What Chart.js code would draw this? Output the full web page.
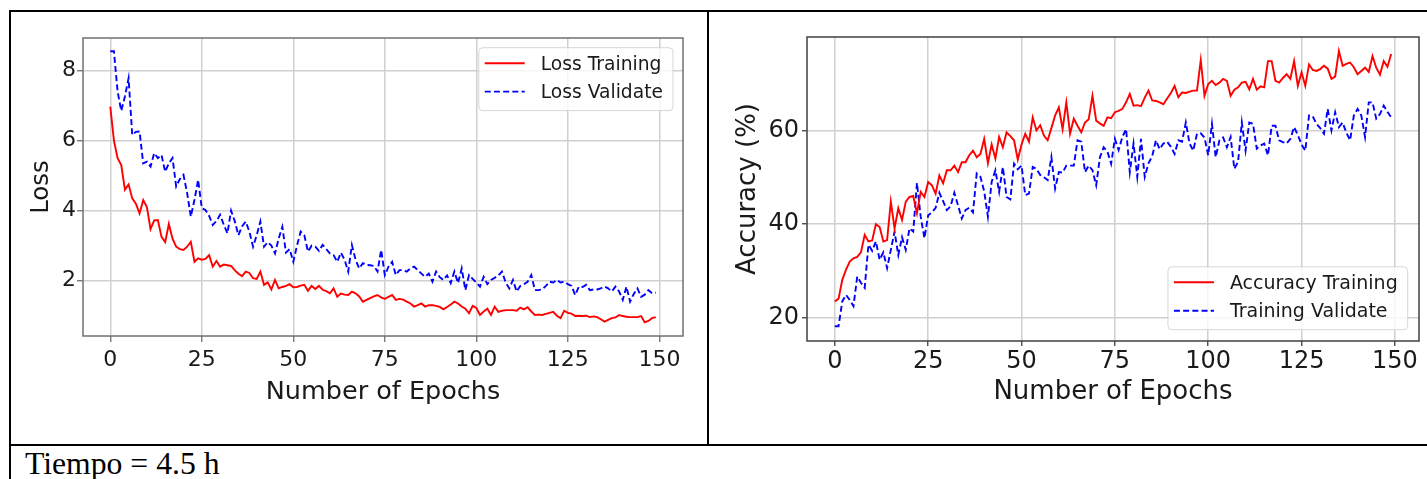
<!DOCTYPE html>
<html>
<head>
<meta charset="utf-8">
<script src="https://cdn.jsdelivr.net/npm/chart.js@4/dist/chart.umd.min.js"></script>
<style>
html, body { margin: 0; padding: 0; background: #fff; }
body { width: 1427px; height: 479px; position: relative; overflow: hidden; }
.rule { position: absolute; background: #000; }
canvas { position: absolute; }
#caption { position: absolute; left: 25px; top: 448px; font: 31.7px "Liberation Serif", "Times New Roman", serif; line-height: 1; white-space: nowrap; color: #000; }
</style>
</head>
<body>
<div class="rule" style="left:9px;top:10px;width:1418px;height:2px"></div>
<div class="rule" style="left:9px;top:10px;width:2px;height:469px"></div>
<div class="rule" style="left:707px;top:10px;width:2px;height:436px"></div>
<div class="rule" style="left:9px;top:444px;width:1418px;height:2px"></div>
<canvas id="loss-chart" width="696" height="432" style="left:11px;top:12px"></canvas>
<canvas id="acc-chart" width="717" height="432" style="left:710px;top:12px"></canvas>
<div id="caption">Tiempo = 4.5 h</div>

<script>
// values, one per epoch (0..149)
const lossTraining = [
    6.97, 6.0, 5.5, 5.3, 4.6, 4.75, 4.35, 4.2, 3.92, 4.3,
    4.1, 3.47, 3.72, 3.73, 3.25, 3.1, 3.62, 3.2, 2.97, 2.9,
    2.88, 2.97, 3.11, 2.54, 2.64, 2.6, 2.62, 2.73, 2.4, 2.56,
    2.4, 2.46, 2.44, 2.42, 2.3, 2.2, 2.13, 2.26, 2.22, 2.07,
    2.05, 2.26, 1.88, 1.95, 1.75, 2.02, 1.78, 1.82, 1.85, 1.9,
    1.81, 1.82, 1.86, 1.88, 1.71, 1.85, 1.76, 1.85, 1.74, 1.7,
    1.64, 1.78, 1.54, 1.63, 1.6, 1.59, 1.69, 1.64, 1.55, 1.4,
    1.45, 1.5, 1.55, 1.59, 1.52, 1.48, 1.54, 1.59, 1.45, 1.48,
    1.46, 1.4, 1.35, 1.26, 1.3, 1.35, 1.26, 1.3, 1.3, 1.28,
    1.25, 1.18, 1.25, 1.32, 1.4, 1.35, 1.26, 1.2, 1.07, 1.28,
    1.22, 1.02, 1.12, 1.2, 1.02, 1.26, 1.11, 1.14, 1.16, 1.16,
    1.16, 1.14, 1.23, 1.18, 1.24, 1.12, 1.02, 1.03, 1.02, 1.05,
    1.08, 1.11, 1.0, 0.93, 1.14, 1.08, 1.06, 0.99, 1.0, 0.99,
    1.0, 0.96, 0.98, 0.96, 0.9, 0.83, 0.88, 0.93, 0.95, 1.02,
    0.99, 0.97, 0.96, 0.96, 0.96, 0.99, 0.81, 0.85, 0.93, 0.96
];
const lossValidate = [
    8.55, 8.55, 7.4, 6.85, 7.26, 7.78, 6.16, 6.25, 6.26, 5.35,
    5.4, 5.26, 5.64, 5.5, 5.59, 5.11, 5.35, 5.5, 4.69, 4.9,
    5.02, 4.5, 3.83, 4.31, 4.88, 4.07, 4.02, 3.85, 3.59, 3.7,
    3.88, 3.6, 3.35, 4.0, 3.7, 3.3, 3.55, 3.69, 3.4, 2.97,
    3.3, 3.69, 2.97, 3.1, 3.0, 2.78, 3.2, 3.54, 2.8, 2.9,
    2.54, 3.0, 3.4, 3.3, 2.83, 3.0, 2.97, 2.85, 3.02, 2.9,
    2.78, 2.73, 2.54, 2.8, 2.6, 2.26, 3.02, 2.6, 2.35, 2.5,
    2.45, 2.44, 2.42, 2.26, 2.88, 2.16, 2.4, 2.54, 2.16, 2.3,
    2.3, 2.26, 2.35, 2.4, 2.3, 2.2, 2.11, 2.2, 1.97, 2.26,
    2.1, 2.02, 2.15, 1.93, 2.26, 1.93, 2.35, 1.73, 2.16, 2.05,
    1.95, 1.83, 2.11, 1.9, 2.02, 2.08, 2.15, 2.26, 1.95, 1.78,
    2.02, 1.69, 1.85, 1.9, 1.97, 2.16, 1.73, 1.73, 1.75, 1.85,
    1.97, 1.95, 2.02, 1.95, 1.97, 1.9, 1.85, 1.59, 1.83, 1.82,
    1.88, 1.73, 1.75, 1.75, 1.78, 1.83, 1.78, 1.69, 1.83, 1.69,
    1.45, 1.83, 1.4, 1.62, 1.78, 1.54, 1.6, 1.73, 1.64, 1.66
];
const accTraining = [
    23.5, 24.1, 28.1, 30.3, 32.0, 32.7, 33.0, 34.0, 37.7, 36.3,
    36.5, 40.0, 39.4, 36.3, 36.6, 44.8, 39.1, 43.4, 40.9, 44.8,
    45.8, 46.0, 42.3, 46.9, 45.8, 49.0, 48.3, 46.5, 50.4, 48.7,
    51.5, 51.5, 52.5, 51.1, 53.2, 53.2, 54.7, 55.7, 54.3, 55.0,
    58.2, 53.0, 57.0, 54.0, 58.6, 56.4, 59.6, 58.8, 57.9, 53.8,
    57.0, 59.3, 57.6, 62.8, 60.0, 61.1, 58.9, 57.9, 60.5, 63.2,
    64.9, 60.3, 66.0, 59.3, 62.5, 61.0, 59.6, 61.7, 62.4, 67.4,
    62.1, 61.5, 61.0, 62.8, 62.6, 63.9, 64.2, 64.6, 66.0, 67.8,
    65.3, 65.4, 65.2, 67.0, 68.5, 66.4, 66.3, 66.0, 65.6, 66.8,
    68.0, 69.5, 67.1, 68.1, 68.0, 68.3, 68.5, 68.5, 75.0, 67.4,
    69.9, 70.6, 69.7, 70.2, 71.0, 70.6, 67.4, 68.7, 69.2, 70.2,
    70.4, 68.8, 71.0, 68.7, 69.4, 69.2, 74.8, 74.8, 70.6, 70.2,
    71.2, 72.0, 71.0, 74.8, 69.5, 72.4, 69.5, 74.1, 72.9, 72.7,
    73.1, 73.8, 73.2, 71.0, 71.5, 77.0, 73.8, 74.2, 74.5, 73.5,
    72.0, 72.7, 73.4, 72.5, 75.9, 73.4, 71.9, 74.8, 73.6, 76.3
];
const accValidate = [
    18.2, 18.2, 23.5, 24.9, 23.8, 22.5, 28.8, 27.5, 26.4, 35.6,
    34.3, 36.3, 32.4, 34.0, 30.6, 34.5, 38.4, 33.4, 37.2, 34.5,
    39.1, 38.4, 48.8, 41.6, 37.0, 41.9, 42.5, 43.5, 46.7, 44.9,
    43.0, 43.8, 46.7, 44.0, 41.2, 43.0, 43.5, 42.5, 50.8, 50.1,
    47.0, 41.6, 49.0, 51.5, 46.9, 52.2, 45.8, 45.3, 52.9, 51.7,
    52.5, 46.2, 46.5, 52.2, 51.8, 50.5, 50.0, 49.4, 54.3, 47.6,
    51.1, 51.0, 52.5, 52.5, 52.5, 57.9, 57.6, 51.1, 52.5, 51.5,
    48.3, 54.3, 56.4, 55.5, 52.9, 58.2, 55.8, 58.6, 60.3, 51.1,
    57.2, 50.1, 58.2, 50.1, 53.0, 54.5, 57.9, 56.0, 57.2, 57.6,
    56.5, 55.0, 57.9, 57.6, 61.7, 57.2, 55.7, 59.3, 59.4, 58.5,
    54.7, 61.4, 54.3, 57.9, 58.5, 56.4, 58.6, 51.8, 53.3, 61.7,
    55.7, 61.7, 61.4, 56.1, 56.8, 57.2, 54.7, 61.0, 61.0, 57.9,
    57.5, 57.2, 58.2, 60.7, 59.0, 57.0, 55.7, 63.2, 63.0, 61.4,
    60.5, 59.3, 64.6, 60.0, 63.9, 60.7, 61.7, 59.5, 57.9, 63.2,
    64.6, 63.2, 58.6, 66.0, 66.0, 62.5, 63.5, 65.3, 64.0, 62.8
];
const epochs = lossTraining.map((_, i) => i);

const epochTicks = [0, 25, 50, 75, 100, 125, 150];
const lossTicks = [2, 4, 6, 8];
const accTicks = [20, 40, 60];

const FONT = '"DejaVu Sans", Verdana, sans-serif';
const INK = '#1a1a1a';
const GRID = '#d0d0d0';

// matplotlib-like axes frame on all four sides
const framePlugin = {
    id: 'frame',
    afterDatasetsDraw(chart, args, opts) {
        const { ctx, chartArea: a } = chart;
        ctx.save();
        ctx.strokeStyle = opts.color;
        ctx.lineWidth = 1.5;
        ctx.strokeRect(a.left, a.top, a.right - a.left, a.bottom - a.top);
        ctx.restore();
    }
};

// boxed legend inside the plot, like plt.legend()
const boxLegend = {
    id: 'boxLegend',
    afterDraw(chart, args, opts) {
        const { ctx, chartArea: a } = chart;
        const sets = chart.data.datasets;
        ctx.save();
        ctx.font = `${opts.size}px ${FONT}`;
        const textW = Math.max(...sets.map(d => ctx.measureText(d.label).width));
        const w = 6 + 40 + 16 + textW + 10;
        const h = 15.5 + 28.4 * (sets.length - 1) + 19;
        const x = a.right - opts.marginX - w;
        const y = opts.where === 'top' ? a.top + opts.marginY : a.bottom - opts.marginY - h;
        ctx.beginPath();
        if (ctx.roundRect) ctx.roundRect(x, y, w, h, 4); else ctx.rect(x, y, w, h);
        ctx.fillStyle = 'rgba(255,255,255,0.8)';
        ctx.fill();
        ctx.strokeStyle = 'rgba(204,204,204,0.8)';
        ctx.lineWidth = 1;
        ctx.stroke();
        sets.forEach((d, i) => {
            const cy = y + 15.5 + i * 28.4;
            ctx.beginPath();
            ctx.setLineDash(d.borderDash || []);
            ctx.strokeStyle = d.borderColor;
            ctx.lineWidth = d.borderWidth;
            ctx.moveTo(x + 6, cy);
            ctx.lineTo(x + 46, cy);
            ctx.stroke();
            ctx.setLineDash([]);
            ctx.fillStyle = INK;
            ctx.textBaseline = 'middle';
            ctx.fillText(d.label, x + 62, cy + 1.5);
        });
        ctx.restore();
    }
};

function lineChart(canvasId, c) {
    const ctx = document.getElementById(canvasId).getContext('2d');
    return new Chart(ctx, {
        type: 'line',
        data: {
            labels: epochs,
            datasets: c.series.map(s => ({
                label: s.label,
                data: s.data,
                borderColor: s.color,
                borderWidth: 1.9,
                borderDash: s.dash,
                pointRadius: 0,
                tension: 0,
                fill: false
            }))
        },
        options: {
            responsive: false,
            animation: false,
            layout: { autoPadding: false, padding: { top: c.padTop, right: c.padRight, left: 0, bottom: 0 } },
            plugins: {
                legend: { display: false },
                tooltip: { enabled: false },
                frame: { color: c.spine },
                boxLegend: c.legend
            },
            scales: {
                x: {
                    type: 'linear',
                    min: -7.45,
                    max: 156.45,
                    afterBuildTicks: s => { s.ticks = epochTicks.map(v => ({ value: v })); },
                    afterFit: s => { s.height = c.xHeight; },
                    ticks: { font: { family: FONT, size: c.tickSize }, color: INK, padding: c.xTickPad, maxRotation: 0, autoSkip: false, callback: v => String(v) },
                    grid: { color: GRID, lineWidth: 1.5, tickLength: c.tickLen, tickColor: c.spine, tickWidth: 1.3 },
                    border: { display: false },
                    title: { display: true, text: 'Number of Epochs', color: INK, font: { family: FONT, size: c.xTitleSize }, padding: { top: 0, bottom: c.xTitlePad } }
                },
                y: {
                    min: c.yMin,
                    max: c.yMax,
                    afterBuildTicks: s => { s.ticks = c.yTicks.map(v => ({ value: v })); },
                    afterFit: s => { s.width = c.yWidth; },
                    ticks: { font: { family: FONT, size: c.tickSize }, color: INK, padding: c.yTickPad, callback: v => String(v) },
                    grid: { color: GRID, lineWidth: 1.5, tickLength: c.tickLen, tickColor: c.spine, tickWidth: 1.3 },
                    border: { display: false },
                    title: { display: true, text: c.yTitle, color: INK, font: { family: FONT, size: c.yTitleSize }, padding: { top: c.yTitlePad, bottom: 0 } }
                }
            }
        },
        plugins: [framePlugin, boxLegend]
    });
}

lineChart('loss-chart', {
    series: [
        { label: 'Loss Training', data: lossTraining, color: '#ff0000', dash: [] },
        { label: 'Loss Validate', data: lossValidate, color: '#0000ff', dash: [6, 3.2] }
    ],
    yTitle: 'Loss', yTicks: lossTicks, yMin: 0.42, yMax: 8.93,
    padTop: 26, padRight: 24, xHeight: 108, yWidth: 72,
    tickSize: 22, tickLen: 6, xTickPad: 4.7, yTickPad: 1,
    xTitleSize: 25.5, xTitlePad: 36.7, yTitleSize: 24.5, yTitlePad: 16,
    spine: '#707070',
    legend: { where: 'top', marginX: 10, marginY: 9.7, size: 18.7 }
});

lineChart('acc-chart', {
    series: [
        { label: 'Accuracy Training', data: accTraining, color: '#ff0000', dash: [] },
        { label: 'Training Validate', data: accValidate, color: '#0000ff', dash: [6, 3.2] }
    ],
    yTitle: 'Accuracy (%)', yTicks: accTicks, yMin: 15.05, yMax: 79.95,
    padTop: 25, padRight: 8, xHeight: 103, yWidth: 97,
    tickSize: 24, tickLen: 5, xTickPad: 1, yTickPad: 3,
    xTitleSize: 26, xTitlePad: 35.9, yTitleSize: 26, yTitlePad: 22.6,
    spine: '#404040',
    legend: { where: 'bottom', marginX: 11.3, marginY: 11.3, size: 19 }
});
</script>
</body>
</html>
